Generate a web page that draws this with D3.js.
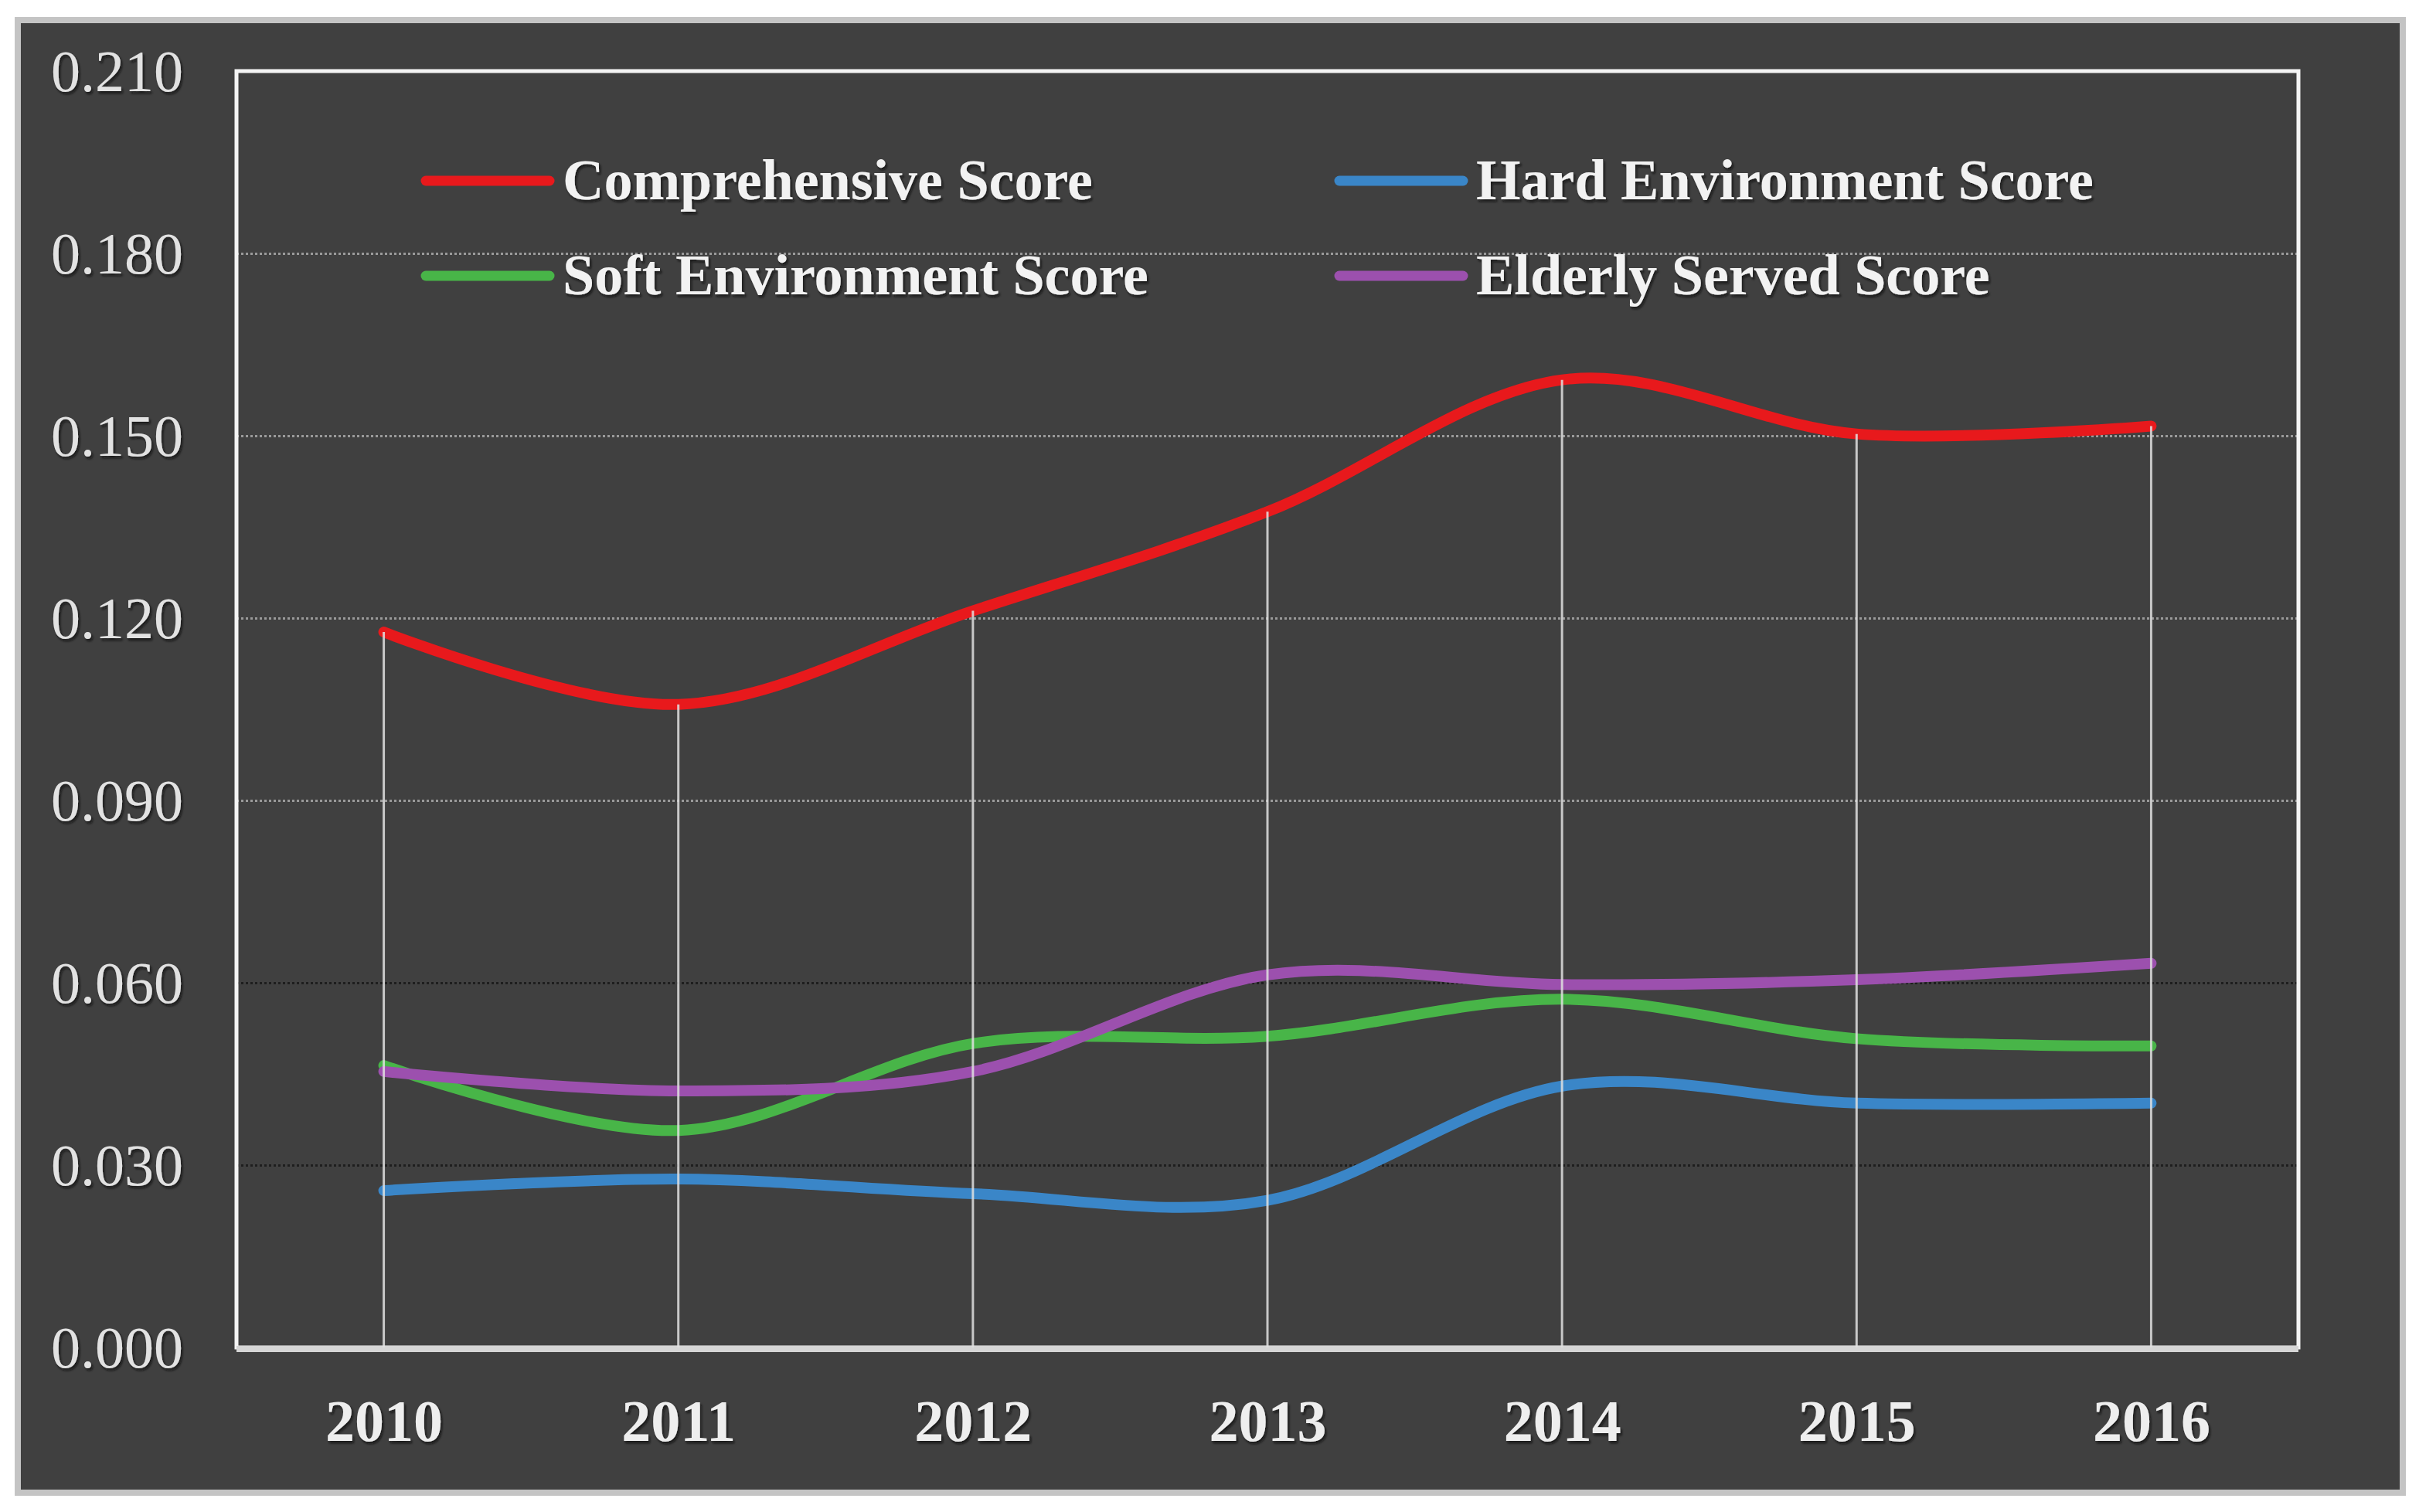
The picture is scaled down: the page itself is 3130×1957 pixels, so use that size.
<!DOCTYPE html>
<html>
<head>
<meta charset="utf-8">
<script src="https://cdn.jsdelivr.net/npm/d3@7/dist/d3.min.js"></script>
<style>
  body { margin: 0; background: #fff; }
</style>
</head>
<body>
<script>
// variables:
var w = 3130
var h = 1957
var margin = { left: 306, right: 156, top: 92, bottom: 213 }

// data
var years = ['2010', '2011', '2012', '2013', '2014', '2015', '2016']
var comprehensive = [0.1177, 0.1058, 0.1212, 0.1375, 0.1592, 0.1503, 0.1516]
var hardEnv = [0.0258, 0.0277, 0.0253, 0.0242, 0.0430, 0.0402, 0.0402]
var softEnv = [0.0464, 0.0357, 0.0500, 0.0512, 0.0573, 0.0508, 0.0496]
var elderly = [0.0454, 0.0422, 0.0454, 0.0613, 0.0597, 0.0605, 0.0632]
var yTicks = [0, 0.03, 0.06, 0.09, 0.12, 0.15, 0.18, 0.21]
var seriesNames = ['Comprehensive Score', 'Hard Environment Score', 'Soft Environment Score', 'Elderly Served Score']

var series = [
  { name: seriesNames[0], values: comprehensive, color: '#e8191c' },
  { name: seriesNames[1], values: hardEnv, color: '#3a86c8' },
  { name: seriesNames[2], values: softEnv, color: '#48b548' },
  { name: seriesNames[3], values: elderly, color: '#9c50ae' }
]

var svg = d3.select('body')
  .append('svg')
  .attr('width', w)
  .attr('height', h)

// text shadow
var defs = svg.append('defs')
defs.append('filter')
  .attr('id', 'shadow')
  .attr('x', '-5%').attr('y', '-20%').attr('width', '110%').attr('height', '140%')
  .append('feDropShadow')
  .attr('dx', 2).attr('dy', 3).attr('stdDeviation', 1.5)
  .attr('flood-color', '#111').attr('flood-opacity', 0.8)

// outer frame
svg.append('rect')
  .attr('x', 23).attr('y', 26)
  .attr('width', 3086).attr('height', 1906)
  .attr('fill', '#404040')
  .attr('stroke', '#c4c4c4')
  .attr('stroke-width', 8)

var x = d3.scalePoint()
  .domain(years)
  .range([margin.left, w - margin.right])
  .padding(0.5)

var y = d3.scaleLinear()
  .domain([0, 0.21])
  .range([h - margin.bottom, margin.top])

var plotL = margin.left
var plotR = w - margin.right
var plotT = margin.top
var plotB = h - margin.bottom

// gridlines (dotted)
svg.append('g')
  .attr('class', 'grid')
  .attr('transform', 'translate(' + plotL + ',0)')
  .call(d3.axisLeft(y).tickValues(yTicks.slice(1)).tickSize(-(plotR - plotL)).tickFormat(''))
  .call(function (g) { g.select('.domain').remove() })
  .selectAll('line')
  .attr('stroke', function (d) { return d <= 0.061 ? '#1e1e1e' : '#9a9a9a' })
  .attr('stroke-width', 3)
  .attr('stroke-dasharray', '3,3')

// plot border
svg.append('rect')
  .attr('x', plotL).attr('y', plotT)
  .attr('width', plotR - plotL).attr('height', plotB - plotT)
  .attr('fill', 'none')
  .attr('stroke', '#f4f4f4')
  .attr('stroke-width', 5)
svg.append('line')
  .attr('x1', plotL).attr('x2', plotR)
  .attr('y1', plotB + 2).attr('y2', plotB + 2)
  .attr('stroke', '#d6d6d6')
  .attr('stroke-width', 8)

// smoothed lines
var line = d3.line()
  .x(function (d, i) { return x(years[i]) })
  .y(function (d) { return y(d) })
  .curve(d3.curveCardinal.tension(0))

svg.selectAll('path.series')
  .data(series)
  .enter()
  .append('path')
  .attr('class', 'series')
  .attr('d', function (d) { return line(d.values) })
  .attr('fill', 'none')
  .attr('stroke', function (d) { return d.color })
  .attr('stroke-width', 14)
  .attr('stroke-linecap', 'round')
  .attr('stroke-linejoin', 'round')

// drop lines from the highest point
svg.selectAll('line.drop')
  .data(years)
  .enter()
  .append('line')
  .attr('class', 'drop')
  .attr('x1', function (d) { return x(d) })
  .attr('x2', function (d) { return x(d) })
  .attr('y1', function (d, i) {
    return y(d3.max(series, function (s) { return s.values[i] }))
  })
  .attr('y2', plotB)
  .attr('stroke', '#e0e0e0')
  .attr('stroke-opacity', 0.85)
  .attr('stroke-width', 3)

// y axis labels
var yAxis = svg.append('g')
  .attr('transform', 'translate(237,0)')
  .call(d3.axisLeft(y).tickValues(yTicks).tickSize(0).tickPadding(0).tickFormat(d3.format('.3f')))
yAxis.select('.domain').remove()
yAxis.selectAll('text')
  .attr('font-family', '"Liberation Serif", "Times New Roman", serif')
  .attr('font-size', 76)
  .attr('fill', '#e2e2e2')
  .attr('dy', '0.34em')
  .attr('filter', 'url(#shadow)')

// x axis labels
var xAxis = svg.append('g')
  .attr('transform', 'translate(0,' + plotB + ')')
  .call(d3.axisBottom(x).tickSize(0).tickPadding(0))
xAxis.select('.domain').remove()
xAxis.selectAll('text')
  .attr('font-family', '"Liberation Serif", "Times New Roman", serif')
  .attr('font-weight', 'bold')
  .attr('font-size', 76)
  .attr('fill', '#eeeeee')
  .attr('dy', 0)
  .attr('y', 121)
  .attr('filter', 'url(#shadow)')

// legend
var legendCols = [545, 1727]
var legendRows = [234, 357]
var legend = svg.selectAll('g.legend')
  .data(series)
  .enter()
  .append('g')
  .attr('class', 'legend')
  .attr('transform', function (d, i) {
    return 'translate(' + legendCols[i % 2] + ',' + legendRows[Math.floor(i / 2)] + ')'
  })
legend.append('line')
  .attr('x1', 6).attr('x2', 166)
  .attr('y1', 0).attr('y2', 0)
  .attr('stroke', function (d) { return d.color })
  .attr('stroke-width', 13)
  .attr('stroke-linecap', 'round')
legend.append('text')
  .text(function (d) { return d.name })
  .attr('x', 183)
  .attr('y', 24)
  .attr('font-family', '"Liberation Serif", "Times New Roman", serif')
  .attr('font-weight', 'bold')
  .attr('font-size', 74)
  .attr('fill', '#f2f2f2')
  .attr('filter', 'url(#shadow)')
</script>
</body>
</html>
